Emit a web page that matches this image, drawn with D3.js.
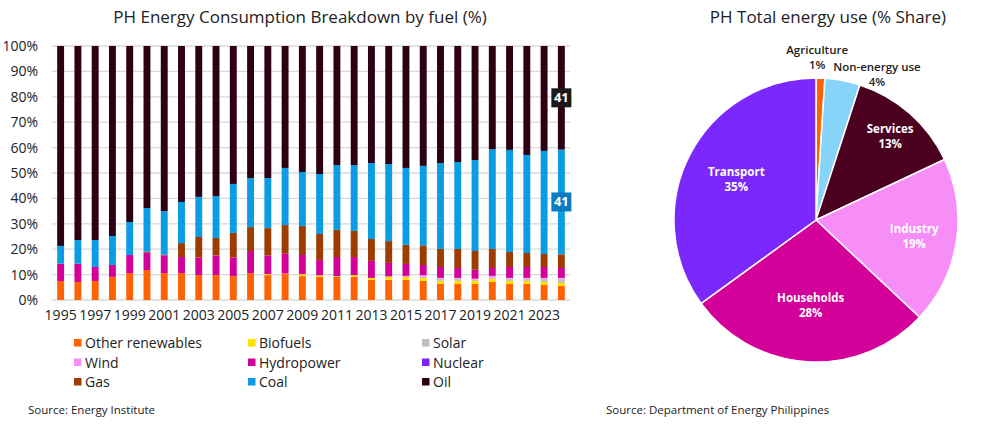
<!DOCTYPE html>
<html>
<head>
<meta charset="utf-8">
<script src="https://cdn.jsdelivr.net/npm/d3@7/dist/d3.min.js"></script>
<style>
  body { margin: 0; background: #fff; }
  svg text { font-family: "Open Sans", "Noto Sans", sans-serif; }
</style>
</head>
<body>
<div id="chart"></div>
<script>
const years = d3.range(1995, 2025);
const tickYears = years.filter(y => (y - 1995) % 2 === 0);
const yTicks = [0, 10, 20, 30, 40, 50, 60, 70, 80, 90, 100];

const fuels = ["Other renewables", "Biofuels", "Solar", "Wind", "Hydropower", "Nuclear", "Gas", "Coal", "Oil"];
const fuelColors = ["#ff6200", "#ffe000", "#c0c0c0", "#f590f5", "#d3009a", "#7b26f6", "#9e3c00", "#0a9de3", "#2d0016"];

const otherRenewables = [7.5, 7.1, 7.5, 9.1, 10.6, 11.8, 10.6, 10.6, 9.8, 9.8, 9.4, 10.6, 9.8, 10.2, 9.4, 9.1, 9.1, 9.1, 7.9, 7.9, 7.9, 7.5, 6.3, 6.3, 6.3, 7.1, 6.3, 6.3, 5.9, 5.5];
const biofuels = [0, 0, 0, 0, 0, 0, 0, 0, 0, 0, 0, 0, 0.4, 0.2, 0.8, 0.6, 0.3, 0.7, 0.8, 1.2, 1.2, 1.2, 1.2, 1.2, 1.2, 1.2, 1.2, 1.2, 1.2, 1.2];
const solar = [0, 0, 0, 0, 0, 0, 0, 0, 0, 0, 0, 0, 0, 0, 0, 0, 0, 0, 0, 0, 0, 0.4, 0.9, 0.9, 0.5, 0.6, 0.9, 0.9, 1.2, 1.7];
const wind = [0, 0, 0, 0, 0, 0, 0, 0, 0, 0, 0, 0, 0, 0, 0, 0, 0, 0, 0, 0.2, 0.4, 0.7, 0.3, 0.3, 0.4, 0.6, 0.3, 0.3, 0.4, 0.3];
const hydropower = [6.8, 7.2, 5.5, 4.7, 7.1, 6.8, 7.0, 6.3, 6.9, 7.7, 7.3, 8.7, 7.3, 7.8, 7.5, 6.0, 7.5, 7.1, 6.7, 5.3, 4.7, 4.0, 4.3, 3.9, 3.5, 3.1, 4.3, 4.3, 4.3, 3.9];
const nuclear = [0, 0, 0, 0, 0, 0, 0, 0, 0, 0, 0, 0, 0, 0, 0, 0, 0, 0, 0, 0, 0, 0, 0, 0, 0, 0, 0, 0, 0, 0];
const gas = [0, 0, 0, 0, 0, 0.4, 0.2, 5.5, 8.1, 6.9, 9.7, 9.4, 10.8, 11.3, 11.4, 10.3, 10.7, 10.3, 8.6, 8.6, 7.5, 7.7, 7.1, 7.5, 7.4, 7.5, 5.9, 5.5, 5.1, 5.4];
const coal = [7.0, 9.3, 10.6, 11.4, 13.0, 17.2, 17.2, 16.2, 15.8, 16.5, 19.3, 19.3, 19.7, 22.5, 21.3, 23.6, 25.5, 25.9, 29.9, 30.3, 30.3, 31.3, 33.8, 34.2, 35.8, 39.3, 40.2, 38.6, 40.6, 41.2];
const oil = [78.7, 76.4, 76.4, 74.8, 69.3, 63.8, 65.0, 61.4, 59.4, 59.1, 54.3, 52.0, 52.0, 48.0, 49.6, 50.4, 46.9, 46.9, 46.1, 46.5, 48.0, 47.2, 46.1, 45.7, 44.9, 40.6, 40.9, 42.9, 41.3, 40.8];
const fuelValues = [otherRenewables, biofuels, solar, wind, hydropower, nuclear, gas, coal, oil];

const sectors = ["Agriculture", "Non-energy use", "Services", "Industry", "Households", "Transport"];
const sectorShares = [1, 4, 13, 19, 28, 35];
const sectorColors = ["#ff6200", "#87d4fa", "#4b0020", "#f78ef7", "#d3009a", "#7a28fb"];

const width = 994, height = 424;
const svg = d3.select("#chart").append("svg")
  .attr("width", width)
  .attr("height", height);

// ---- left: stacked bars
const table = years.map((yr, i) => {
  const row = { year: yr };
  fuels.forEach((f, k) => row[f] = fuelValues[k][i]);
  return row;
});

const x = d3.scaleBand()
  .domain(years)
  .range([52, 570])
  .paddingInner(0.6)
  .paddingOuter(0.3);

const y = d3.scaleLinear()
  .domain([0, 100])
  .range([300, 46]);

svg.append("text")
  .attr("x", 300).attr("y", 23)
  .attr("text-anchor", "middle")
  .attr("font-size", 17)
  .attr("fill", "#222")
  .text("PH Energy Consumption Breakdown by fuel (%)");

svg.append("g")
  .selectAll("line")
  .data(yTicks)
  .join("line")
  .attr("x1", 52).attr("x2", 570)
  .attr("y1", d => y(d)).attr("y2", d => y(d))
  .attr("stroke", "#d9d9d9")
  .attr("stroke-width", 1.3);

const yAxis = svg.append("g")
  .attr("transform", "translate(52,0)")
  .call(d3.axisLeft(y).tickValues(yTicks).tickFormat(d => d + "%").tickSize(0).tickPadding(14));
yAxis.select(".domain").remove();
yAxis.selectAll("text").attr("font-size", 14).attr("fill", "#222").style("font-family", "Open Sans");

const xAxis = svg.append("g")
  .attr("transform", "translate(0,300)")
  .call(d3.axisBottom(x).tickValues(tickYears).tickSize(0).tickPadding(10));
xAxis.select(".domain").remove();
xAxis.selectAll("text").attr("font-size", 14).attr("fill", "#222").style("font-family", "Open Sans");

const stack = d3.stack().keys(fuels)(table);

svg.append("g")
  .selectAll("g")
  .data(stack)
  .join("g")
  .attr("fill", (d, i) => fuelColors[i])
  .selectAll("rect")
  .data(d => d)
  .join("rect")
  .attr("x", d => x(d.data.year))
  .attr("y", d => y(d[1]))
  .attr("height", d => y(d[0]) - y(d[1]))
  .attr("width", x.bandwidth());

// end labels for the last year (oil and coal)
const lastYear = years[years.length - 1];
const endLabels = [
  { key: "Oil", bg: "#1a1a1a" },
  { key: "Coal", bg: "#0b7cc0" }
];
endLabels.forEach(l => {
  const layer = stack[fuels.indexOf(l.key)];
  const seg = layer[layer.length - 1];
  const cx = x(lastYear) + x.bandwidth() / 2;
  const cy = y((seg[0] + seg[1]) / 2);
  svg.append("rect")
    .attr("x", cx - 10).attr("y", cy - 9.5)
    .attr("width", 20).attr("height", 19)
    .attr("fill", l.bg);
  svg.append("text")
    .attr("x", cx).attr("y", cy + 4.5)
    .attr("text-anchor", "middle")
    .attr("font-size", 13)
    .attr("font-weight", "bold")
    .attr("fill", "#fff")
    .text(Math.round(seg[1] - seg[0]));
});

// legend
const legend = svg.append("g")
  .selectAll("g")
  .data(fuels)
  .join("g")
  .attr("transform", (d, i) => `translate(${74 + (i % 3) * 174},${343 + Math.floor(i / 3) * 19.5})`);
legend.append("rect")
  .attr("x", 0).attr("y", -4)
  .attr("width", 7.5).attr("height", 7.5)
  .attr("fill", (d, i) => fuelColors[i]);
legend.append("text")
  .attr("x", 11).attr("y", 5)
  .attr("font-size", 14)
  .attr("fill", "#222")
  .text(d => d);

svg.append("text")
  .attr("x", 28).attr("y", 414)
  .attr("font-size", 11.5)
  .attr("fill", "#222")
  .text("Source: Energy Institute");

// ---- right: pie
const cx = 816, cy = 220, r = 142;

svg.append("text")
  .attr("x", 828).attr("y", 23)
  .attr("text-anchor", "middle")
  .attr("font-size", 17)
  .attr("fill", "#222")
  .text("PH Total energy use (% Share)");

const pie = d3.pie().sort(null).value(d => d.v);
const arcs = pie(sectors.map((s, i) => ({ name: s, v: sectorShares[i] })));
const arc = d3.arc().innerRadius(0).outerRadius(r);

const pg = svg.append("g").attr("transform", `translate(${cx},${cy})`);
pg.selectAll("path")
  .data(arcs)
  .join("path")
  .attr("d", arc)
  .attr("fill", (d, i) => sectorColors[i])
  .attr("stroke", "#fff")
  .attr("stroke-width", 1.5);

// label placement: radius factor, x shift, inside or not
const labelPlace = [
  { k: 1.15, dx: -4, inside: false },
  { k: 1.05, dx: 33, inside: false },
  { k: 0.79, dx: 0, inside: true },
  { k: 0.70, dx: 0, inside: true },
  { k: 0.60, dx: 0, inside: true },
  { k: 0.63, dx: 0, inside: true }
];
arcs.forEach((d, i) => {
  const a = (d.startAngle + d.endAngle) / 2;
  const p = labelPlace[i];
  const lx = Math.sin(a) * r * p.k + p.dx;
  const ly = -Math.cos(a) * r * p.k;
  const lines = [d.data.name, d.data.v + "%"];
  lines.forEach((s, j) => {
    pg.append("text")
      .attr("x", lx).attr("y", ly - 3 + j * 15)
      .attr("text-anchor", "middle")
      .attr("font-size", 11.5)
      .attr("font-weight", p.inside ? "bold" : 600)
      .attr("fill", p.inside ? "#fff" : "#222")
      .text(s);
  });
});

svg.append("text")
  .attr("x", 606).attr("y", 414)
  .attr("font-size", 11.5)
  .attr("fill", "#222")
  .text("Source: Department of Energy Philippines");
</script>
</body>
</html>
